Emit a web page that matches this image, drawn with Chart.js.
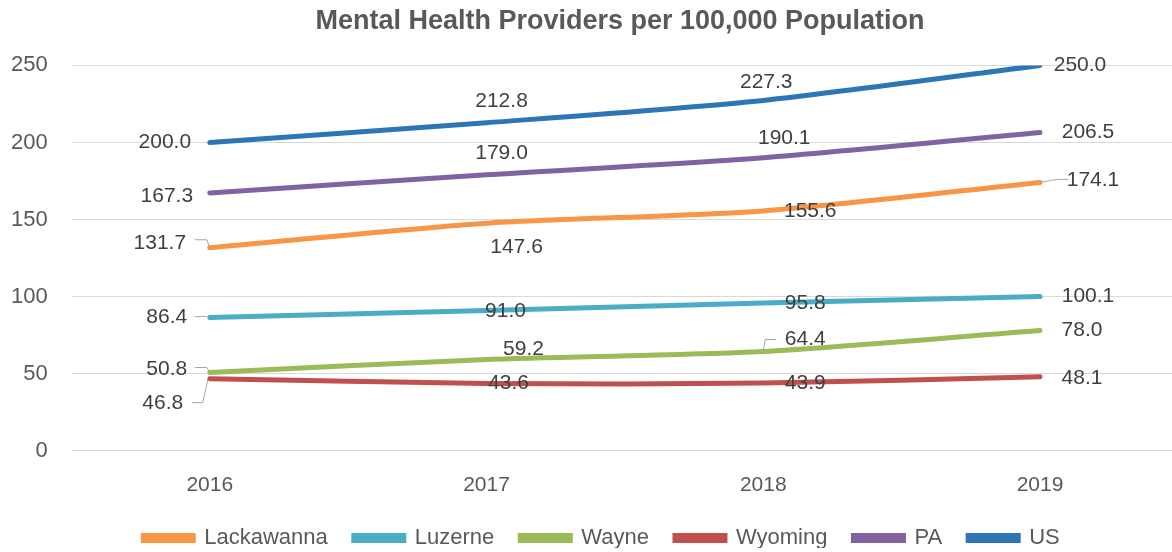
<!DOCTYPE html>
<html>
<head>
<meta charset="utf-8">
<script src="https://cdn.jsdelivr.net/npm/chart.js@4"></script>
<style>
  html, body { margin: 0; padding: 0; background: #fff; }
  #wrap { width: 1172px; height: 552px; }
</style>
</head>
<body>
<div id="wrap"><canvas id="grafica"></canvas></div>
<script>
// DATA
const years = ["2016", "2017", "2018", "2019"];
const seriesNames = ["Lackawanna", "Luzerne", "Wayne", "Wyoming", "PA", "US"];
const lackawanna = [131.7, 147.6, 155.6, 174.1];
const luzerne = [86.4, 91.0, 95.8, 100.1];
const wayne = [50.8, 59.2, 64.4, 78.0];
const wyoming = [46.8, 43.6, 43.9, 48.1];
const pa = [167.3, 179.0, 190.1, 206.5];
const us = [200.0, 212.8, 227.3, 250.0];
const yTicks = [0, 50, 100, 150, 200, 250];

const seriesValues = [lackawanna, luzerne, wayne, wyoming, pa, us];
const colores = ["#F79646", "#4BACC6", "#9BBB59", "#C0504D", "#8064A2", "#2E75B6"];

const fuente = "'Liberation Sans', Arial, sans-serif";

// label offsets from each point [dx, dy] (pixels)
const labelOffsets = [
    [[-50, -5], [30, 24], [47, 0], [53, -2]],
    [[-43, 0], [19, 1], [42, 0], [48, 0]],
    [[-43, -3], [37, -10], [42, -12], [42, 0]],
    [[-47, 25], [22, 0], [42, 0], [42, 2]],
    [[-43, 3], [15, -22], [21, -20], [48, 0]],
    [[-45, 0], [15, -22], [3, -18], [40, 0]]
];

// leader lines, relative to point: "series-point": [[x,y],...]
const leaders = {
    "0-0": [[-15, -8], [-3, -8], [0, 0]],
    "1-0": [[-15, -1], [-3, -1]],
    "2-0": [[-15, -5], [-3, -5], [0, 0]],
    "3-0": [[-18, 24], [-7, 24], [-2, 1]],
    "2-2": [[0, 0], [2, -12], [13, -12]],
    "0-3": [[0, 0], [17, -3], [28, -3]]
};

const labelsPlugin = {
    id: "etiquetas",
    afterDatasetsDraw(chart) {
        const ctx = chart.ctx;
        ctx.save();
        ctx.font = "21px " + fuente;
        ctx.fillStyle = "#404040";
        ctx.textAlign = "center";
        ctx.textBaseline = "middle";
        chart.data.datasets.forEach((ds, s) => {
            const meta = chart.getDatasetMeta(s);
            meta.data.forEach((pt, i) => {
                const key = s + "-" + i;
                if (leaders[key]) {
                    ctx.beginPath();
                    ctx.strokeStyle = "#a6a6a6";
                    ctx.lineWidth = 1;
                    leaders[key].forEach((p, k) => {
                        if (k === 0) ctx.moveTo(pt.x + p[0], pt.y + p[1]);
                        else ctx.lineTo(pt.x + p[0], pt.y + p[1]);
                    });
                    ctx.stroke();
                }
                const off = labelOffsets[s][i];
                ctx.fillText(seriesValues[s][i].toFixed(1), pt.x + off[0], pt.y + off[1]);
            });
        });
        ctx.restore();
    }
};

// legend shorter than chart.js default, and title / legend moved right
const ajustes = {
    id: "ajustes",
    beforeLayout(chart) {
        const lg = chart.legend;
        if (lg && !lg._parcheado) {
            const fitOrig = lg.fit.bind(lg);
            lg.fit = function () {
                fitOrig();
                this.height -= 22;
            };
            lg._parcheado = true;
        }
    },
    afterLayout(chart) {
        const t = chart.titleBlock;
        if (t) t.left = 2 * 620 - t.right;
        const lg = chart.legend;
        if (lg) {
            lg.top -= 11;
            lg.left += 22;
            lg.right += 22;
        }
    }
};

const xIndex = years.map((y, i) => i);

new Chart(document.getElementById("grafica"), {
    type: "line",
    data: {
        datasets: seriesNames.map((name, s) => ({
            label: name,
            data: seriesValues[s].map((v, i) => ({ x: xIndex[i], y: v })),
            borderColor: colores[s],
            backgroundColor: colores[s],
            borderWidth: 5,
            borderCapStyle: "round",
            pointRadius: 0,
            tension: 0.25,
            fill: false
        }))
    },
    options: {
        responsive: true,
        maintainAspectRatio: false,
        animation: false,
        layout: { padding: { left: -13, right: 0, top: 0, bottom: 4 } },
        plugins: {
            title: {
                display: true,
                text: "Mental Health Providers per 100,000 Population",
                color: "#595959",
                font: { family: fuente, size: 27, weight: "bold" },
                padding: { top: 5, bottom: 28 }
            },
            legend: {
                position: "bottom",
                labels: {
                    color: "#595959",
                    font: { family: fuente, size: 22 },
                    boxWidth: 50,
                    boxHeight: 5,
                    padding: 26
                }
            },
            tooltip: { enabled: false }
        },
        scales: {
            x: {
                type: "linear",
                min: -0.499,
                max: 3.477,
                grid: { display: false },
                border: { display: false },
                afterBuildTicks(scale) {
                    scale.ticks = xIndex.map(v => ({ value: v }));
                },
                ticks: {
                    color: "#595959",
                    font: { family: fuente, size: 21 },
                    padding: 14,
                    callback: v => years[v]
                }
            },
            y: {
                min: 0,
                max: 250,
                afterBuildTicks(scale) {
                    scale.ticks = yTicks.map(v => ({ value: v }));
                },
                grid: { color: "#d9d9d9", lineWidth: 1, drawTicks: false },
                border: { display: false },
                ticks: {
                    color: "#595959",
                    font: { family: fuente, size: 22 },
                    padding: 24
                }
            }
        }
    },
    plugins: [labelsPlugin, ajustes]
});
</script>
</body>
</html>
